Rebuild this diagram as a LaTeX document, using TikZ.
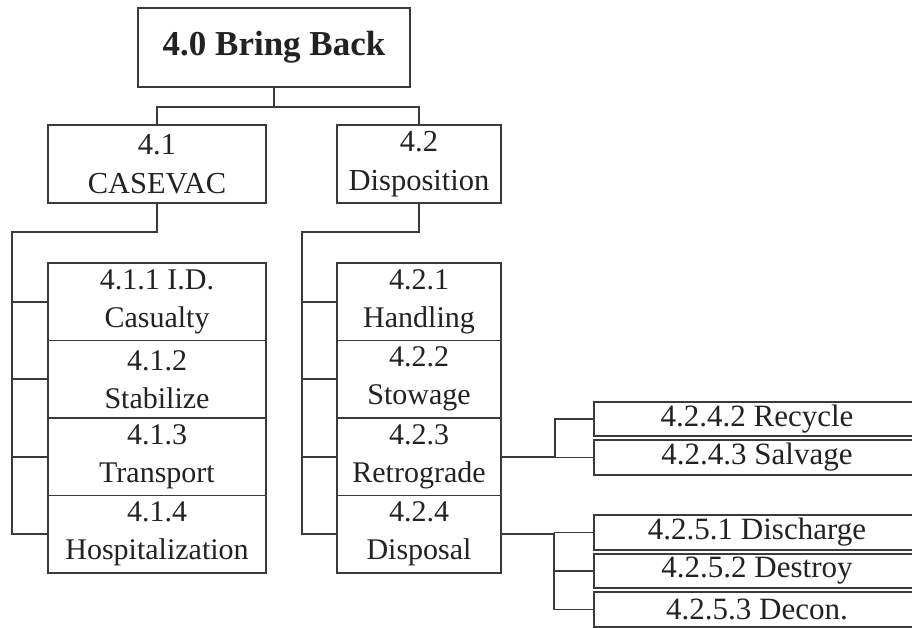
\documentclass[tikz,border=0pt]{standalone}
\usepackage{fontspec}
\setmainfont{Liberation Serif}
\definecolor{ln}{HTML}{3A3A3A}
\definecolor{tx}{HTML}{222222}
\tikzset{
  box/.style={draw=ln, line width=1.7pt, rectangle, inner sep=0pt, text=tx, align=center},
  conn/.style={draw=ln, line width=1.7pt},
  midbox/.style={box, minimum height=78pt, font=\fontsize{30.5}{39}\selectfont},
  lowbox/.style={box, minimum width=218pt, minimum height=77.5pt, font=\fontsize{30}{38}\selectfont},
  lowboxR/.style={box, minimum width=164pt, minimum height=77.5pt, font=\fontsize{30}{38}\selectfont},
  sidebox/.style={box, minimum width=326pt, minimum height=34.5pt, font=\fontsize{31}{36}\selectfont},
}
\begin{document}
\begin{tikzpicture}[x=1pt,y=-1pt]
\useasboundingbox[fill=white] (0,0) rectangle (912,628);
\clip (0,0) rectangle (912,628);
% top
\node[box, minimum width=272pt, minimum height=79pt, font=\fontsize{35}{40}\selectfont\bfseries] (top) at (274,47.5) {4.0 Bring Back};
% level 1
\node[midbox, minimum width=218pt] (n41) at (157,164) {4.1\\CASEVAC};
\node[midbox, minimum width=164pt] (n42) at (419,164) {4.2\\Disposition};
% level 2 left
\node[lowbox] (n411) at (157,301.75) {4.1.1 I.D.\\Casualty};
\node[lowbox] (n412) at (157,379.25) {4.1.2\\Stabilize};
\node[lowbox] (n413) at (157,456.75) {4.1.3\\Transport};
\node[lowbox] (n414) at (157,534.25) {4.1.4\\Hospitalization};
% level 2 right
\node[lowboxR] (n421) at (419,301.75) {4.2.1\\Handling};
\node[lowboxR] (n422) at (419,379.25) {4.2.2\\Stowage};
\node[lowboxR] (n423) at (419,456.75) {4.2.3\\Retrograde};
\node[lowboxR] (n424) at (419,534.25) {4.2.4\\Disposal};
% level 3
\node[sidebox] (r1) at (757,419) {4.2.4.2 Recycle};
\node[sidebox] (r2) at (757,457.5) {4.2.4.3 Salvage};
\node[sidebox] (d1) at (757,532.5) {4.2.5.1 Discharge};
\node[sidebox] (d2) at (757,571) {4.2.5.2 Destroy};
\node[sidebox] (d3) at (757,609.5) {4.2.5.3 Decon.};
% junction coordinates
\coordinate (j0) at (274,107);
\coordinate (bl) at (12,232);
\coordinate (br) at (302,232);
\coordinate (jr) at (555,457);
\coordinate (jd) at (554,533);
% connectors
\draw[conn] (top.south) -- (top.south |- j0);
\draw[conn] (n41.north) |- (n42.north |- j0) -- (n42.north);
\draw[conn] (n41.south) |- (bl) |- (n414.west);
\draw[conn] (bl |- n411.west) -- (n411.west);
\draw[conn] (bl |- n412.west) -- (n412.west);
\draw[conn] (bl |- n413.west) -- (n413.west);
\draw[conn] (n42.south) |- (br) |- (n424.west);
\draw[conn] (br |- n421.west) -- (n421.west);
\draw[conn] (br |- n422.west) -- (n422.west);
\draw[conn] (br |- n423.west) -- (n423.west);
\draw[conn] (n423.east) -- (jr |- n423.east) |- (r1.west);
\draw[conn] (jr |- r2.west) -- (r2.west);
\draw[conn] (n424.east) -- (jd |- n424.east) |- (d3.west);
\draw[conn] (jd |- d1.west) -- (d1.west);
\draw[conn] (jd |- d2.west) -- (d2.west);
\end{tikzpicture}
\end{document}
